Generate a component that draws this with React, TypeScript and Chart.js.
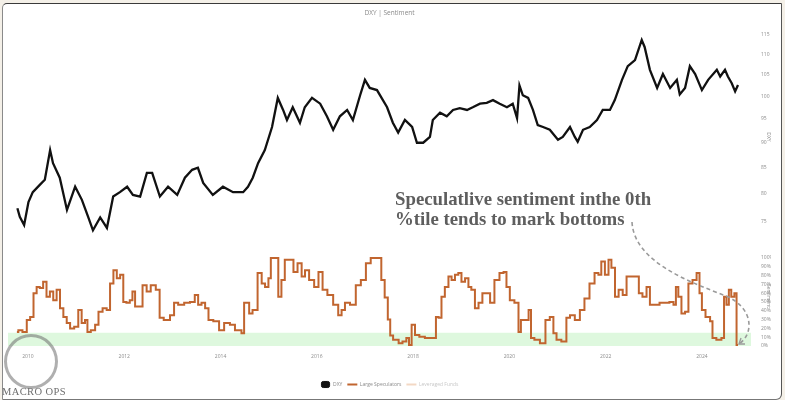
import React, { useEffect, useRef } from 'react';
import { Chart, registerables } from 'chart.js';

Chart.register(...registerables);

// ---------- data ----------
const xTickYears = [2010, 2012, 2014, 2016, 2018, 2020, 2022, 2024];
const dxyTicks = [75, 80, 85, 90, 95, 100, 105, 110, 115];
const sentimentTicks = [0, 10, 20, 30, 40, 50, 60, 70, 80, 90, 100];
const bandLevel = 15;

const dxyYears = [
  2009.78, 2009.83, 2009.92, 2010.01, 2010.10, 2010.25, 2010.35, 2010.46, 2010.52, 2010.66,
  2010.81, 2010.98, 2011.12, 2011.25, 2011.35, 2011.50, 2011.64, 2011.77, 2011.91, 2012.06,
  2012.18, 2012.33, 2012.47, 2012.58, 2012.74, 2012.91, 2013.10, 2013.26, 2013.41, 2013.53,
  2013.64, 2013.84, 2014.05, 2014.26, 2014.47, 2014.57, 2014.67, 2014.78, 2014.92, 2015.07,
  2015.19, 2015.30, 2015.38, 2015.50, 2015.65, 2015.75, 2015.90, 2016.07, 2016.21, 2016.34,
  2016.48, 2016.63, 2016.75, 2016.90, 2017.00, 2017.10, 2017.25, 2017.46, 2017.58, 2017.69,
  2017.83, 2017.98, 2018.08, 2018.21, 2018.35, 2018.41, 2018.56, 2018.70, 2018.83, 2018.97,
  2019.12, 2019.24, 2019.39, 2019.53, 2019.66, 2019.80, 2019.95, 2020.07, 2020.16, 2020.21,
  2020.28, 2020.39, 2020.49, 2020.59, 2020.70, 2020.84, 2021.01, 2021.11, 2021.26, 2021.36,
  2021.42, 2021.53, 2021.67, 2021.82, 2021.94, 2022.09, 2022.19, 2022.34, 2022.46, 2022.61,
  2022.75, 2022.81, 2022.92, 2023.07, 2023.19, 2023.34, 2023.48, 2023.54, 2023.65, 2023.75,
  2023.86, 2024.00, 2024.13, 2024.31, 2024.38, 2024.48, 2024.54, 2024.62, 2024.69, 2024.75,
];
const dxyValues = [
  77.4, 75.9, 74.5, 78.5, 80.3, 81.7, 82.6, 88.4, 85.8, 83.0,
  77.1, 81.3, 78.9, 75.9, 73.6, 75.8, 74.0, 79.5, 80.3, 81.3,
  79.8, 79.5, 83.9, 83.9, 79.5, 81.3, 79.8, 83.0, 84.5, 84.9,
  82.0, 79.8, 81.3, 80.3, 80.3, 81.3, 83.0, 85.8, 88.4, 93.2,
  99.6, 96.9, 94.7, 97.5, 94.1, 97.5, 99.6, 98.3, 95.5, 92.6,
  95.5, 96.9, 94.7, 100.2, 103.8, 101.9, 101.4, 97.5, 94.1, 92.0,
  94.7, 93.2, 89.9, 89.9, 91.1, 94.7, 96.3, 95.5, 96.9, 97.3,
  96.9, 97.5, 98.3, 98.5, 99.1, 98.3, 97.5, 98.3, 95.1, 102.5,
  100.2, 99.6, 96.9, 93.6, 93.2, 92.6, 90.5, 91.1, 93.2, 91.1,
  90.1, 92.6, 93.2, 94.7, 96.9, 96.9, 99.1, 103.8, 107.1, 108.6,
  113.7, 111.9, 106.2, 101.9, 105.2, 101.9, 103.8, 100.4, 101.9, 107.1,
  105.2, 101.4, 103.8, 106.2, 104.6, 106.2, 104.6, 103.0, 101.1, 102.6,
];

const specYears = [
  2009.77, 2009.83, 2009.94, 2010.01, 2010.08, 2010.15, 2010.21, 2010.28, 2010.35, 2010.42,
  2010.49, 2010.56, 2010.63, 2010.70, 2010.77, 2010.84, 2010.91, 2011.01, 2011.08, 2011.15,
  2011.22, 2011.25, 2011.36, 2011.43, 2011.50, 2011.60, 2011.67, 2011.74, 2011.81, 2011.88,
  2011.95, 2012.01, 2012.08, 2012.15, 2012.19, 2012.26, 2012.33, 2012.43, 2012.50, 2012.60,
  2012.71, 2012.76, 2012.88, 2013.02, 2013.05, 2013.19, 2013.30, 2013.43, 2013.50, 2013.57,
  2013.64, 2013.72, 2013.78, 2013.92, 2014.02, 2014.13, 2014.26, 2014.34, 2014.40, 2014.47,
  2014.51, 2014.58, 2014.61, 2014.72, 2014.82, 2014.89, 2014.96, 2015.03, 2015.06, 2015.17,
  2015.23, 2015.30, 2015.37, 2015.48, 2015.55, 2015.65, 2015.72, 2015.79, 2015.89, 2016.00,
  2016.07, 2016.17, 2016.27, 2016.41, 2016.48, 2016.55, 2016.62, 2016.76, 2016.86, 2016.97,
  2017.07, 2017.17, 2017.31, 2017.37, 2017.45, 2017.50, 2017.55, 2017.62, 2017.67, 2017.73,
  2017.83, 2017.89, 2017.94, 2018.00, 2018.08, 2018.18, 2018.31, 2018.45, 2018.50, 2018.56,
  2018.62, 2018.70, 2018.77, 2018.83, 2018.91, 2018.97, 2019.04, 2019.12, 2019.18, 2019.24,
  2019.33, 2019.39, 2019.49, 2019.56, 2019.64, 2019.74, 2019.85, 2019.91, 2019.97, 2020.05,
  2020.16, 2020.22, 2020.26, 2020.37, 2020.43, 2020.47, 2020.57, 2020.70, 2020.80, 2020.88,
  2020.95, 2021.01, 2021.15, 2021.22, 2021.30, 2021.42, 2021.51, 2021.61, 2021.72, 2021.82,
  2021.88, 2021.94, 2022.03, 2022.09, 2022.15, 2022.24, 2022.30, 2022.41, 2022.46, 2022.57,
  2022.67, 2022.71, 2022.82, 2022.88, 2022.96, 2023.07, 2023.17, 2023.27, 2023.38, 2023.44,
  2023.48, 2023.54, 2023.61, 2023.69, 2023.75, 2023.86, 2023.92, 2023.98, 2024.02, 2024.13,
  2024.21, 2024.23, 2024.37, 2024.44, 2024.48, 2024.54, 2024.58, 2024.64, 2024.71, 2024.73,
  2024.75,
];
const specValues = [
  16, 18, 16, 29.5, 33, 60, 67, 66, 73, 56,
  62, 52, 64, 43, 33, 26, 20, 22, 41, 26,
  29.5, 16, 18, 24, 39, 43, 41, 71, 86, 77,
  81, 50, 49, 52, 62, 45, 45, 69, 62, 69,
  64, 32, 29.5, 35, 49, 47, 49, 50, 58, 47,
  49, 43, 29.5, 28, 18, 26, 24, 18, 18, 14.5,
  49, 49, 37, 41, 83, 71, 67, 77, 100, 100,
  56, 75, 98, 98, 84, 94, 79, 86, 75, 67,
  84, 64, 58, 47, 35, 41, 49, 47, 69, 75,
  94, 100, 100, 75, 55, 30, 12, 7, 7, 3,
  5, 9, 1, 24, 12.5, 10.6, 9, 9, 33, 32,
  56, 67, 79, 75, 81, 83, 73, 77, 67, 64,
  43, 49, 60, 60, 49, 75, 83, 84, 67, 52,
  49, 16, 29.5, 29.5, 41, 9, 7, 3, 29.5, 33,
  14.5, 7, 5, 32, 35, 29.5, 41, 54, 71, 83,
  81, 96, 81, 98, 89, 56, 64, 58, 79, 79,
  79, 60, 56, 67, 47, 47, 49, 49, 50, 47,
  67, 56, 37, 39, 71, 75, 83, 60, 41, 33,
  28, 9, 7, 9, 56, 47, 64, 56, 60, 1,
  1,
];
const leveragedValues: number[] = [];

const xMin = 2009.585;
const xMax = 2025.02;

// ---------- styles ----------
const FONT = "'Open Sans', 'Noto Sans', sans-serif";
const ORANGE = '#c1652f';
const TICK_COLOR = '#8c8c8c';

export default function App() {
  const canvasRef = useRef<HTMLCanvasElement | null>(null);

  useEffect(() => {
    const canvas = canvasRef.current;
    if (!canvas) return;
    const chart = new Chart(canvas, {
      type: 'line',
      data: {
        datasets: [
          {
            label: 'DXY',
            data: dxyYears.map((x, i) => ({ x, y: dxyValues[i] })),
            yAxisID: 'yDxy',
            borderColor: '#111111',
            borderWidth: 2.3,
            pointRadius: 0,
            tension: 0,
            order: 1,
          },
          {
            label: 'Large Speculators',
            data: specYears.map((x, i) => ({ x, y: specValues[i] })),
            yAxisID: 'ySent',
            borderColor: ORANGE,
            borderWidth: 2,
            pointRadius: 0,
            stepped: 'middle',
            order: 2,
          },
          {
            label: 'Leveraged Funds',
            data: leveragedValues.map((y, i) => ({ x: specYears[i], y })),
            yAxisID: 'ySent',
            borderColor: '#f3d8c4',
            borderWidth: 2,
            pointRadius: 0,
            hidden: true,
            order: 3,
          },
          {
            label: 'band',
            data: [
              { x: xMin, y: bandLevel },
              { x: xMax, y: bandLevel },
            ],
            yAxisID: 'ySent',
            fill: 'origin',
            backgroundColor: 'rgba(200, 243, 200, 0.6)',
            borderWidth: 0,
            borderColor: 'rgba(0,0,0,0)',
            pointRadius: 0,
            order: 10,
          },
        ],
      },
      options: {
        animation: false,
        responsive: false,
        maintainAspectRatio: false,
        layout: { padding: { left: 4, right: 9, top: 0, bottom: 0 } },
        plugins: {
          title: {
            display: true,
            text: 'DXY | Sentiment',
            color: '#8a8a8a',
            font: { family: FONT, size: 6.5, weight: 'normal' },
            padding: { top: 9, bottom: 11.2 },
          },
          legend: {
            position: 'bottom',
            labels: {
              usePointStyle: true,
              pointStyleWidth: 10,
              boxHeight: 5,
              padding: 5,
              color: '#8a8a8a',
              font: { family: FONT, size: 5 },
              generateLabels: () => [
                {
                  text: 'DXY',
                  fillStyle: '#111111',
                  strokeStyle: '#111111',
                  lineWidth: 1,
                  pointStyle: 'rectRounded',
                  fontColor: '#8a8a8a',
                  hidden: false,
                  datasetIndex: 0,
                },
                {
                  text: 'Large Speculators',
                  fillStyle: ORANGE,
                  strokeStyle: ORANGE,
                  lineWidth: 2,
                  pointStyle: 'line',
                  fontColor: '#8a8a8a',
                  hidden: false,
                  datasetIndex: 1,
                },
                {
                  text: 'Leveraged Funds',
                  fillStyle: '#f3d8c4',
                  strokeStyle: '#f3d8c4',
                  lineWidth: 2,
                  pointStyle: 'line',
                  fontColor: '#c8c8c8',
                  hidden: false,
                  datasetIndex: 2,
                },
              ],
            },
          },
          tooltip: { enabled: false },
        },
        scales: {
          x: {
            type: 'linear',
            min: xMin,
            max: xMax,
            grid: { display: false },
            border: { display: false },
            afterBuildTicks: (s: any) => {
              s.ticks = xTickYears.map((v) => ({ value: v }));
            },
            afterFit: (s: any) => {
              s.height = 31;
            },
            ticks: {
              autoSkip: false,
              maxRotation: 0,
              padding: 0,
              color: TICK_COLOR,
              font: { family: FONT, size: 5 },
              callback: (v: any) => String(v),
            },
          },
          yDxy: {
            type: 'logarithmic',
            position: 'right',
            stack: 'right',
            stackWeight: 218,
            min: 71.0,
            max: 116.86,
            grid: { display: false },
            border: { display: false },
            afterBuildTicks: (s: any) => {
              s.ticks = dxyTicks.map((v) => ({ value: v }));
            },
            afterFit: (s: any) => {
              s.width = 20;
            },
            ticks: {
              autoSkip: false,
              padding: 2,
              color: TICK_COLOR,
              font: { family: FONT, size: 5 },
              callback: (v: any) => String(v),
            },
            title: {
              display: true,
              text: 'DXY',
              color: '#8a8a8a',
              padding: 0,
              font: { family: FONT, size: 5 },
            },
          },
          ySent: {
            type: 'linear',
            position: 'right',
            stack: 'right',
            stackWeight: 100,
            min: 0,
            max: 113.6,
            grid: { display: false },
            border: { display: false },
            afterBuildTicks: (s: any) => {
              s.ticks = sentimentTicks.map((v) => ({ value: v }));
            },
            afterFit: (s: any) => {
              s.width = 20;
            },
            ticks: {
              autoSkip: false,
              padding: 2,
              color: TICK_COLOR,
              font: { family: FONT, size: 5 },
              callback: (v: any) => v + '%',
            },
            title: {
              display: true,
              text: 'Sentiment',
              color: '#8a8a8a',
              padding: 0,
              font: { family: FONT, size: 5 },
            },
          },
        },
      } as any,
    });
    return () => chart.destroy();
  }, []);

  return (
    <div
      style={{
        position: 'fixed',
        left: 0,
        top: 0,
        width: 785,
        height: 400,
        background: '#f4f0e8',
        overflow: 'hidden',
      }}
    >
      <div
        style={{
          position: 'absolute',
          left: 2,
          top: 3,
          width: 780,
          height: 397,
          boxSizing: 'border-box',
          background: '#ffffff',
          borderLeft: '1.5px solid #8a8a8a',
          borderTop: '1.5px solid #3a3a3a',
          borderRight: '1.5px solid #555555',
          borderBottom: '1.5px solid #777777',
          borderTopLeftRadius: 5,
          borderBottomRightRadius: 6,
        }}
      />
      <canvas
        ref={canvasRef}
        width={776}
        height={397}
        style={{ position: 'absolute', left: 4, top: 0, width: 776, height: 397 }}
      />
      <svg
        width={785}
        height={400}
        style={{ position: 'absolute', left: 0, top: 0, pointerEvents: 'none' }}
      >
        <path
          d="M632 222 C 634 262, 690 282, 726 296 C 754 308, 754 334, 739 344"
          fill="none"
          stroke="#9a9a9a"
          strokeWidth={1.6}
          strokeDasharray="4 3"
        />
        <path d="M745 344 L739 344 L741 338" fill="none" stroke="#9a9a9a" strokeWidth={1.4} />
      </svg>
      <div
        style={{
          position: 'absolute',
          left: 395,
          top: 188.6,
          fontFamily: "'Liberation Serif', 'DejaVu Serif', serif",
          fontWeight: 'bold',
          fontSize: 18.8,
          lineHeight: '20px',
          color: '#5e5e5e',
          whiteSpace: 'pre',
        }}
      >
        {'Speculatlive sentiment inthe 0th\n%tile tends to mark bottoms'}
      </div>
      <div
        style={{
          position: 'absolute',
          left: 4,
          top: 334,
          width: 54,
          height: 55,
          boxSizing: 'border-box',
          borderRadius: '50%',
          border: '3px solid rgba(110,110,110,0.55)',
        }}
      />
      <div
        style={{
          position: 'absolute',
          left: 2,
          top: 386.4,
          fontFamily: "'Liberation Serif', serif",
          fontSize: 10.5,
          lineHeight: '12px',
          letterSpacing: 0.4,
          color: '#6f6f6f',
          whiteSpace: 'pre',
        }}
      >
        MACRO OPS
      </div>
    </div>
  );
}
